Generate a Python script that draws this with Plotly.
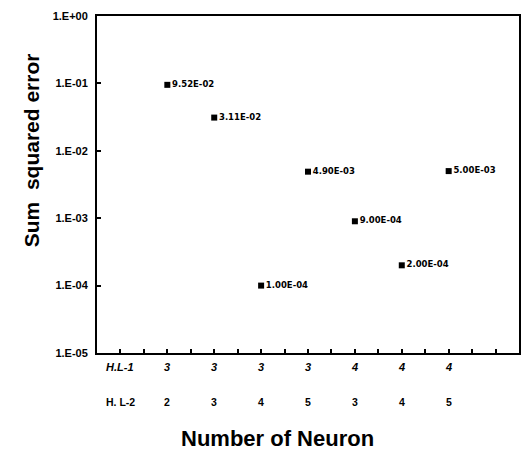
import plotly.graph_objects as go

# Data
positions = [1, 2, 3, 4, 5, 6, 7]
hl1 = ["3", "3", "3", "3", "4", "4", "4"]
hl2 = ["2", "3", "4", "5", "3", "4", "5"]
sse = [9.52e-02, 3.11e-02, 1.00e-04, 4.90e-03, 9.00e-04, 2.00e-04, 5.00e-03]
sse_labels = ["9.52E-02", "3.11E-02", "1.00E-04", "4.90E-03", "9.00E-04", "2.00E-04", "5.00E-03"]
ytick_vals = [1e0, 1e-1, 1e-2, 1e-3, 1e-4, 1e-5]
ytick_text = ["1.E+00", "1.E-01", "1.E-02", "1.E-03", "1.E-04", "1.E-05"]

fig = go.Figure()
fig.add_trace(go.Scatter(
    x=positions, y=sse, mode="markers+text",
    marker=dict(symbol="square", size=6, color="black"),
    text=["<b>" + t + "</b>" for t in sse_labels], textposition="middle right",
    textfont=dict(family="DejaVu Sans", size=8.5, color="black"),
    showlegend=False, cliponaxis=False,
))

rowfont1 = dict(family="Liberation Sans", size=11, color="black")
rowfont2 = dict(family="Liberation Sans", size=10.5, color="black")
annotations = []
annotations.append(dict(x=0, y=0, xref="x", yref="paper", text="<b><i>H.L-1</i></b>", showarrow=False,
                        yshift=-22, font=rowfont1))
annotations.append(dict(x=0, y=0, xref="x", yref="paper", text="<b>H. L-2</b>", showarrow=False,
                        yshift=-57, font=rowfont2))
for p, a, b in zip(positions, hl1, hl2):
    annotations.append(dict(x=p, y=0, xref="x", yref="paper", text="<b><i>" + a + "</i></b>", showarrow=False,
                            yshift=-22, font=rowfont1))
    annotations.append(dict(x=p, y=0, xref="x", yref="paper", text="<b>" + b + "</b>", showarrow=False,
                            yshift=-57, font=rowfont2))
annotations.append(dict(x=0.427, y=0, xref="paper", yref="paper", text="<b>Number of Neuron</b>", showarrow=False,
                        yshift=-100, font=dict(family="Liberation Sans", size=22, color="black")))
annotations.append(dict(x=0, y=0.60, xref="paper", yref="paper", text="<b>Sum&nbsp;&nbsp;squared error</b>",
                        showarrow=False, textangle=-90, xshift=-79,
                        font=dict(family="Liberation Sans", size=21, color="black")))

fig.update_layout(
    width=522, height=465,
    margin=dict(l=97, r=1, t=16, b=112),
    plot_bgcolor="white", paper_bgcolor="white",
    annotations=annotations,
    xaxis=dict(range=[-0.5, 8.5], tick0=0, dtick=0.5, showticklabels=False,
               ticks="inside", ticklen=4, tickwidth=1.5, tickcolor="black",
               showline=True, linecolor="black", linewidth=2, mirror=True,
               showgrid=False, zeroline=False),
    yaxis=dict(type="log", range=[-5, 0], tickvals=ytick_vals,
               ticktext=["<b>" + t + "</b>" for t in ytick_text],
               ticks="inside", ticklen=4, tickwidth=1.5, tickcolor="black",
               ticklabelstandoff=5,
               showline=True, linecolor="black", linewidth=2, mirror=True,
               showgrid=False, zeroline=False,
               tickfont=dict(family="Liberation Sans", size=11, color="black")),
)

fig.write_html("out.html")
